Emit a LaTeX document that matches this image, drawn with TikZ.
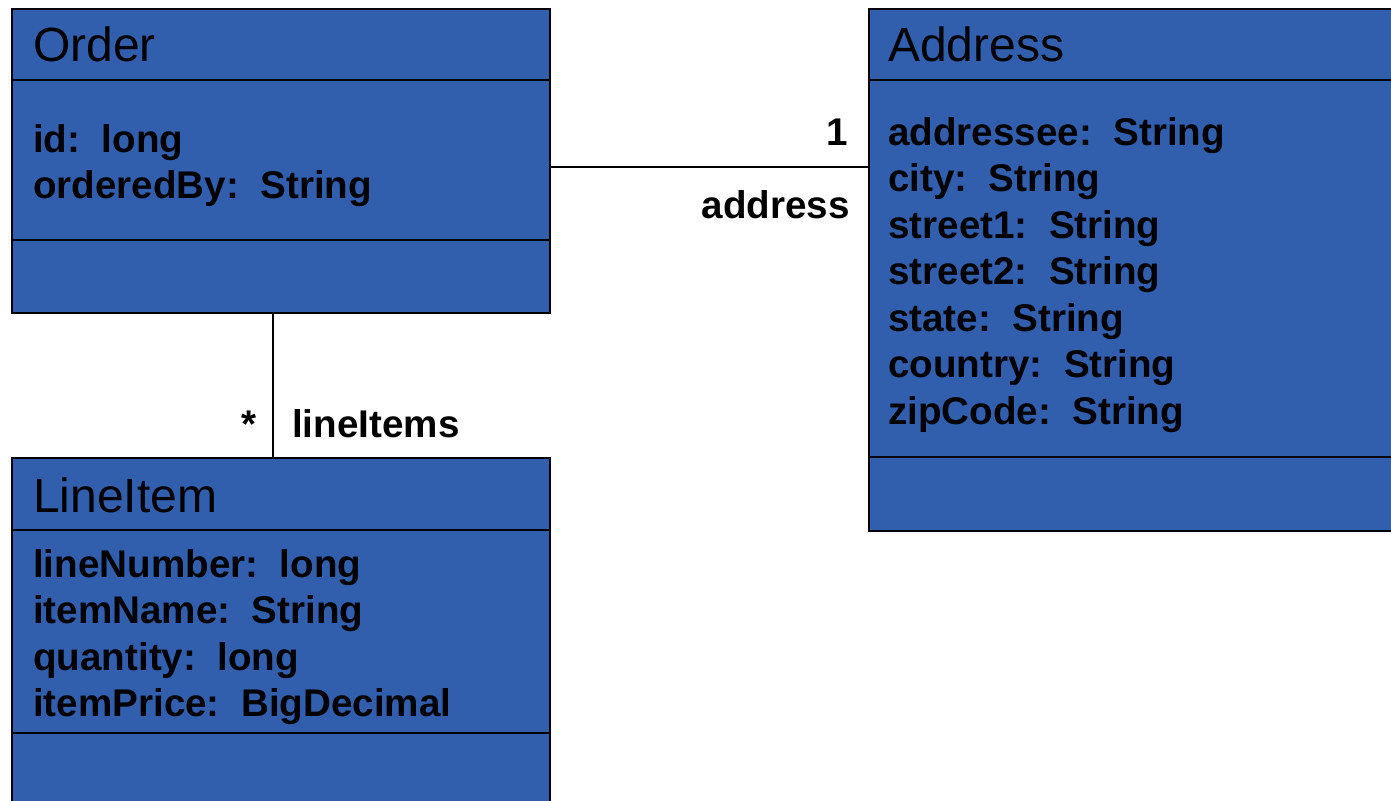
\documentclass[tikz,border=0pt]{standalone}
\usepackage{fontspec}
\setmainfont{Liberation Sans}
\definecolor{classfill}{HTML}{315FAD}
\begin{document}
\begin{tikzpicture}[x=1pt,y=-1pt,
  classbox/.style={draw=black, fill=classfill, line width=2.2pt, rectangle, inner sep=0pt, anchor=north west},
  sep/.style={line width=2.2pt},
  assoc/.style={line width=2pt},
  title/.style={anchor=base west, inner sep=0pt, font=\fontsize{48}{58}\selectfont},
  attrs/.style={anchor=base west, inner sep=0pt, align=left, font=\fontsize{38.6}{46.5}\selectfont\bfseries},
  role/.style={inner sep=0pt, font=\fontsize{38.6}{46}\selectfont\bfseries}]
\useasboundingbox (0,0) rectangle (1391,800);
\clip (0,0) rectangle (1391,800);

% Order class
\node[classbox, minimum width=538pt, minimum height=304pt] (order) at (11,8) {};
\draw[sep] (11,80) -- (549,80);
\draw[sep] (11,240) -- (549,240);
\node[title] (ordertitle) at (33,62) {Order};
% the base anchor of a multi-line node sits on its last line
\node[attrs] (orderattrs) at (33,198.5) {id:\ \ long\\orderedBy:\ \ String};

% Address class (runs past the right edge)
\node[classbox, minimum width=560pt, minimum height=522pt] (address) at (868,8) {};
\draw[sep] (868,80) -- (1430,80);
\draw[sep] (868,457) -- (1430,457);
\node[title] (addresstitle) at (888,62) {Address};
\node[attrs] (addressattrs) at (888,424) {addressee:\ \ String\\city:\ \ String\\street1:\ \ String\\street2:\ \ String\\state:\ \ String\\country:\ \ String\\zipCode:\ \ String};

% LineItem class (runs past the bottom edge)
\node[classbox, minimum width=538pt, minimum height=360pt] (lineitem) at (11,457) {};
\draw[sep] (11,530) -- (549,530);
\draw[sep] (11,733) -- (549,733);
\node[title] (lineitemtitle) at (33,512) {LineItem};
\node[attrs] (lineitemattrs) at (33,716.5) {lineNumber:\ \ long\\itemName:\ \ String\\quantity:\ \ long\\itemPrice:\ \ BigDecimal};

% associations
\draw[assoc] (order.east |- 0,167) -- (address.west |- 0,167);
\draw[assoc] (order.south -| 273,0) -- (lineitem.north -| 273,0);

% role names and multiplicities
\node[role, anchor=base east] (mult1) at (848,145) {1};
\node[role, anchor=base east] (addrrole) at (850,218) {address};
\node[role, anchor=base east] (multstar) at (257,437) {*};
\node[role, anchor=base west] (itemsrole) at (292,437) {lineItems};
\end{tikzpicture}
\end{document}
